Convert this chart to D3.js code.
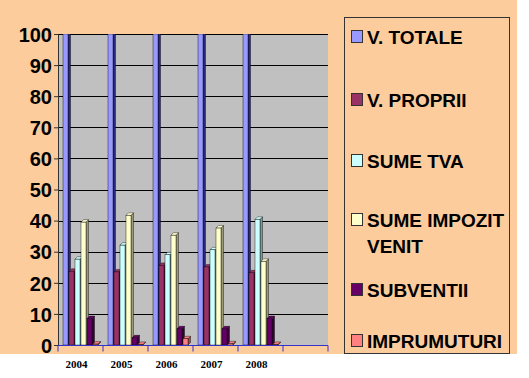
<!DOCTYPE html>
<html lang="ro">
<head>
<meta charset="UTF-8">
<title>Venituri 2004-2008</title>
<style>
  body { margin: 0; background: #ffffff; }
  svg { display: block; }
  .ylab { font: bold 20px "Liberation Sans", Arial, sans-serif; fill: #000; }
  .xlab { font: bold 11px "Liberation Serif", "Times New Roman", serif; fill: #000; }
  .leg { font: bold 19px "Liberation Sans", Arial, sans-serif; fill: #000; }
</style>
</head>
<body>
<svg id="chart" width="529" height="378"></svg>
<script src="https://d3js.org/d3.v7.min.js"></script>
<script>
// categories (last slot is empty in the original)
const years = ["2004", "2005", "2006", "2007", "2008", ""];
const seriesNames = ["V. TOTALE", "V. PROPRII", "SUME TVA", "SUME IMPOZIT VENIT", "SUBVENTII", "IMPRUMUTURI"];

// values
const vTotale     = [100, 100, 100, 100, 100];
const vProprii    = [23.7, 23.5, 25.6, 25.1, 23.2];
const sumeTva     = [27.6, 32.1, 29, 30.6, 40.4];
const sumeImpozit = [39.5, 41.7, 35.3, 37.6, 26.9];
const subventii   = [8.5, 2.3, 5.2, 5.2, 8.5];
const imprumuturi = [0.3, 0.2, 2.0, 0.4, 0.2];

const yTicks = [0, 10, 20, 30, 40, 50, 60, 70, 80, 90, 100];

const allSeries = [vTotale, vProprii, sumeTva, sumeImpozit, subventii, imprumuturi];
const fronts = ["#9999ff", "#993366", "#ccffff", "#ffffcc", "#660066", "#ff8080"];
const sides  = ["#2a2a80", "#5c1f3d", "#7a9999", "#99997a", "#3a003a", "#994d4d"];

const svg = d3.select("#chart");

// peach background, white strips at the bottom and right
svg.append("rect").attr("x", 0).attr("y", 0).attr("width", 517).attr("height", 354).attr("fill", "#fccc9c");

const plot = { left: 58, right: 328, top: 34, bottom: 345 };

const x0 = d3.scaleBand().domain(years).range([plot.left, plot.right]);
const x1 = d3.scaleBand().domain(seriesNames).range([5, 41]);
const y = d3.scaleLinear().domain([0, 100]).range([plot.bottom, plot.top]);

// plot area
svg.append("rect")
    .attr("x", plot.left).attr("y", plot.top)
    .attr("width", plot.right - plot.left).attr("height", plot.bottom - plot.top)
    .attr("fill", "#c0c0c0");

// gridlines
svg.append("g").selectAll("line")
    .data(yTicks.filter(d => d > 0))
    .join("line")
    .attr("x1", plot.left).attr("x2", plot.right)
    .attr("y1", d => Math.round(y(d)) + 0.5).attr("y2", d => Math.round(y(d)) + 0.5)
    .attr("stroke", "#000").attr("stroke-width", 1);

// y axis
const yAxis = svg.append("g")
    .attr("transform", `translate(${plot.left},0)`)
    .call(d3.axisLeft(y).tickValues(yTicks).tickSize(4).tickPadding(2));
yAxis.select(".domain").attr("stroke", "#333");
yAxis.selectAll(".tick line").attr("stroke", "#333");
yAxis.selectAll(".tick text").attr("class", "ylab").attr("font-size", null).attr("font-family", null).attr("dy", "0.36em");

// bars (3D look: front, side, top)
svg.append("clipPath").attr("id", "clip")
  .append("rect").attr("x", plot.left).attr("y", plot.top)
  .attr("width", plot.right - plot.left + 5).attr("height", plot.bottom - plot.top + 1);

const w = 5, d = 2.5;
const bars = svg.append("g").attr("clip-path", "url(#clip)");
years.slice(0, 5).forEach((yr, j) => {
  seriesNames.forEach((s, i) => {
    const v = allSeries[i][j];
    const bx = x0(yr) + x1(s);
    const top = y(v), base = y(0);
    const g = bars.append("g");
    g.append("polygon")
      .attr("points", [[bx + w, top], [bx + w + d, top - d], [bx + w + d, base - d], [bx + w, base]].join(" "))
      .attr("fill", sides[i]).attr("stroke", "#000").attr("stroke-width", 0.4);
    g.append("polygon")
      .attr("points", [[bx, top], [bx + d, top - d], [bx + w + d, top - d], [bx + w, top]].join(" "))
      .attr("fill", fronts[i]).attr("stroke", "#000").attr("stroke-width", 0.4);
    g.append("rect")
      .attr("x", bx).attr("y", top).attr("width", w).attr("height", base - top)
      .attr("fill", fronts[i]).attr("stroke", "#000").attr("stroke-width", 0.4);
  });
});

// x axis
const xAxis = svg.append("g")
    .attr("transform", `translate(0,${plot.bottom + 0.5})`);
xAxis.append("line")
    .attr("x1", plot.left).attr("x2", plot.right)
    .attr("stroke", "#3333cc").attr("stroke-width", 1);
xAxis.selectAll("line.tk")
    .data(years.map(c => x0(c)).concat([plot.right]))
    .join("line").attr("class", "tk")
    .attr("x1", d => d).attr("x2", d => d)
    .attr("y1", 0).attr("y2", 6)
    .attr("stroke", "#3333cc");

svg.append("g").selectAll("text")
    .data(years.filter(c => c))
    .join("text")
    .attr("class", "xlab")
    .attr("x", c => x0(c) + x0.bandwidth() / 2 - 4)
    .attr("y", 368)
    .attr("text-anchor", "middle")
    .text(c => c);

// legend
svg.append("rect")
    .attr("x", 344.5).attr("y", 17.5).attr("width", 165).attr("height", 336)
    .attr("fill", "none").attr("stroke", "#333").attr("stroke-width", 1);

const legBase = [44, 107, 168, 227, 297, 348];
const leg = svg.append("g").selectAll("g")
    .data(seriesNames)
    .join("g")
    .attr("transform", (s, i) => `translate(351,${legBase[i]})`);
leg.append("rect")
    .attr("x", 0.5).attr("y", -13.5).attr("width", 11).attr("height", 12)
    .attr("fill", (s, i) => fronts[i]).attr("stroke", "#333").attr("stroke-width", 1);
leg.append("text")
    .attr("class", "leg")
    .attr("x", 16)
    .each(function (s) {
      const t = d3.select(this);
      const lines = s === "SUME IMPOZIT VENIT" ? ["SUME IMPOZIT", "VENIT"] : [s];
      lines.forEach((ln, k) => t.append("tspan").attr("x", 16).attr("dy", k ? 26 : 0).text(ln));
    });
</script>
</body>
</html>
